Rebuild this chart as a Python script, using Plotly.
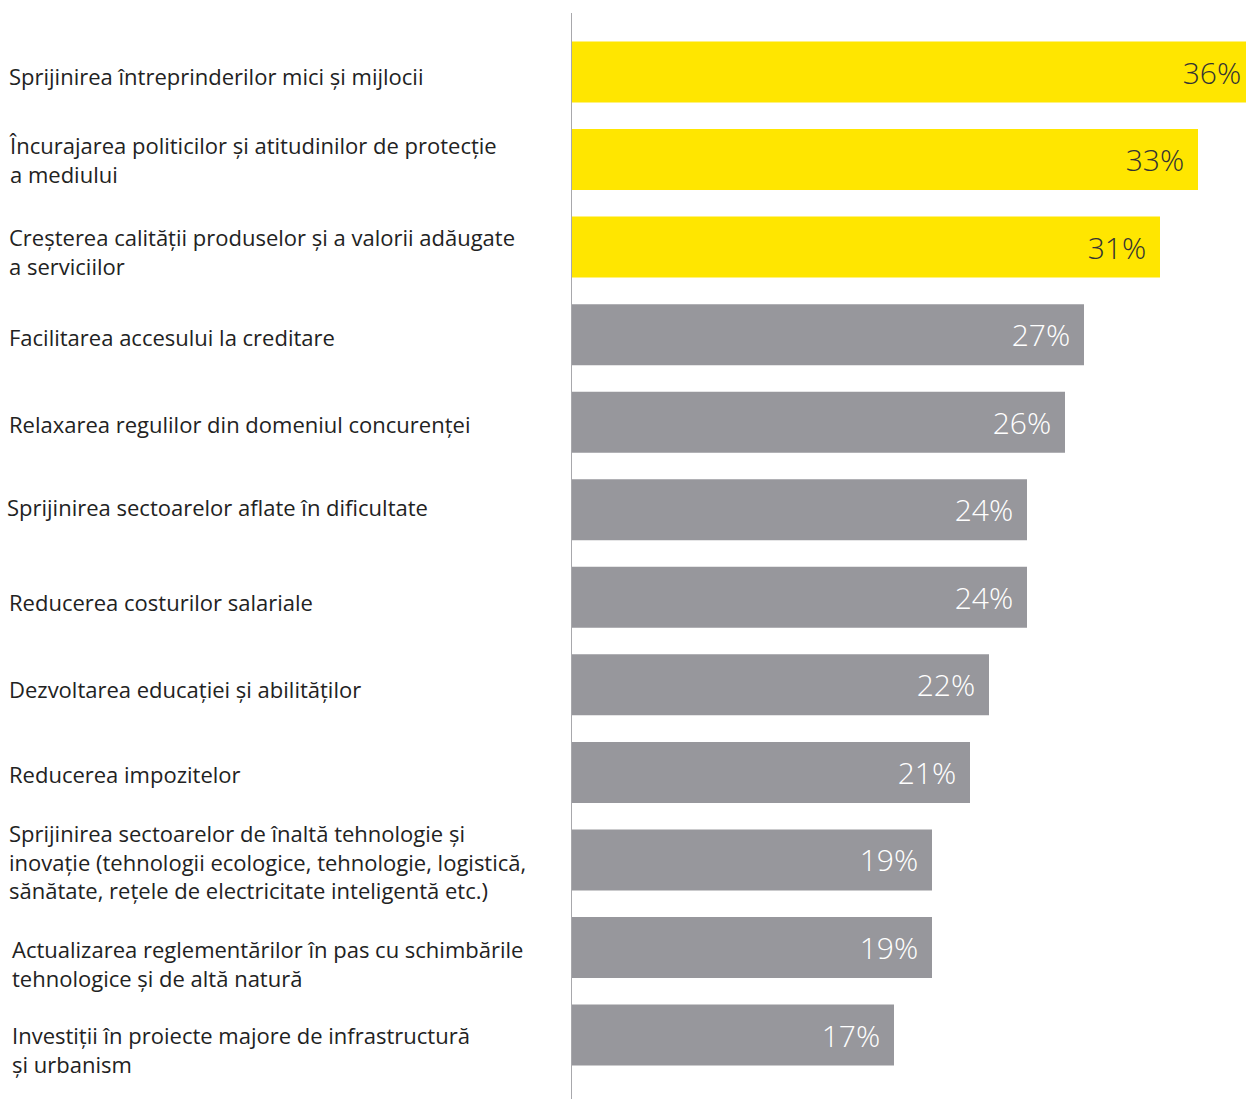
import plotly.graph_objects as go

# Survey results: measures that should be supported (share of respondents)
categories = [
    "Sprijinirea întreprinderilor mici și mijlocii",
    "Încurajarea politicilor și atitudinilor de protecție<br>a mediului",
    "Creșterea calității produselor și a valorii adăugate<br>a serviciilor",
    "Facilitarea accesului la creditare",
    "Relaxarea regulilor din domeniul concurenței",
    "Sprijinirea sectoarelor aflate în dificultate",
    "Reducerea costurilor salariale",
    "Dezvoltarea educației și abilităților",
    "Reducerea impozitelor",
    "Sprijinirea sectoarelor de înaltă tehnologie și<br>inovație (tehnologii ecologice, tehnologie, logistică,<br>sănătate, rețele de electricitate inteligentă etc.)",
    "Actualizarea reglementărilor în pas cu schimbările<br>tehnologice și de altă natură",
    "Investiții în proiecte majore de infrastructură<br>și urbanism",
]
values = [36, 33, 31, 27, 26, 24, 24, 22, 21, 19, 19, 17]
highlight = [True, True, True, False, False, False, False, False, False, False, False, False]

YELLOW = "#FFE600"
GREY = "#97979C"
W, H = 1246, 1099
x0_px = 571  # where the bars start
px_per_pct = 19.0

# small nudges so the labels sit where they do in the original layout
# (dx from the left edge, dy = pixels below the bar centre)
label_dx = [7, 7, 7, 7, 7, 5, 7, 7, 7, 7, 10, 10]
label_dy = [4, 0, 4, 2, 2, -3, 5, 4, 2, 2, 16, 14]

bar_colors = [YELLOW if h else GREY for h in highlight]
text_colors = ["#333333" if h else "white" for h in highlight]

fig = go.Figure()
fig.add_trace(go.Bar(
    x=values, y=categories, orientation="h",
    marker=dict(color=bar_colors, line=dict(width=0)),
    width=0.697,
    text=[f"{v}%\u00a0\u200a" for v in values],
    textposition="inside", insidetextanchor="end",
    textangle=0, constraintext="none",
    textfont=dict(family="Open Sans", size=30, color=text_colors, weight=300),
    hoverinfo="skip",
))

for cat, dx, dy in zip(categories, label_dx, label_dy):
    fig.add_annotation(
        x=dx / W, xref="paper", y=cat, yref="y",
        text=cat, showarrow=False, xanchor="left", align="left",
        yshift=-dy,
        font=dict(family="Open Sans", size=22, color="#222222"),
    )

# vertical axis line
fig.add_shape(type="line", xref="x", yref="paper", x0=0, x1=0,
              y0=0, y1=(H - 13) / H, line=dict(color="#A8A8AC", width=2))

y_top = -72 / 87.55
y_bot = (H - 72) / 87.55
fig.update_layout(
    width=W, height=H,
    margin=dict(l=0, r=0, t=0, b=0),
    paper_bgcolor="white", plot_bgcolor="white",
    showlegend=False,
    xaxis=dict(domain=[x0_px / W, 1], range=[0, (W - x0_px) / px_per_pct],
               visible=False, fixedrange=True),
    yaxis=dict(range=[y_bot, y_top], showticklabels=False, showgrid=False,
               zeroline=False, showline=False, ticks="", fixedrange=True),
)

fig.write_html("out.html", config={"displayModeBar": False},
               post_script="document.body.style.margin='0';")
